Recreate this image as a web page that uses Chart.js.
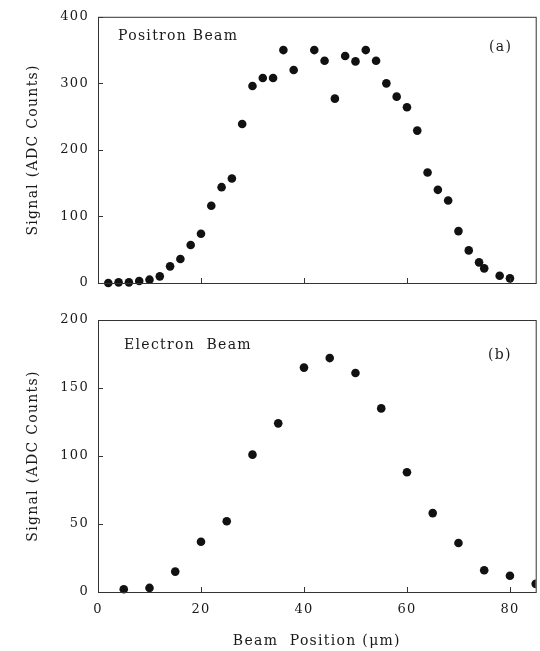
<!DOCTYPE html>
<html>
<head>
<meta charset="utf-8">
<script src="https://cdn.jsdelivr.net/npm/chart.js@4.4.1/dist/chart.umd.min.js"></script>
<style>
  html, body { margin: 0; padding: 0; background: #fff; }
  #wrap { position: relative; width: 540px; height: 651px; }
  .box { position: absolute; left: 0; width: 540px; }
</style>
</head>
<body>
<div id="wrap">
  <div class="box" style="top:0;height:300px"><canvas id="chartA"></canvas></div>
  <div class="box" style="top:300px;height:351px"><canvas id="chartB"></canvas></div>
</div>
<script>
// positron beam, panel (a)
const positronX = [2, 4, 6, 8, 10, 12, 14, 16, 18, 20, 22, 24, 26, 28, 30, 32, 34, 36, 38,
  42, 44, 46, 48, 50, 52, 54, 56, 58, 60, 62, 64, 66, 68, 70, 72, 74, 75, 78, 80];
const positronY = [0, 1, 1, 3, 5, 10, 25, 36, 57, 74, 116, 144, 157, 239, 296, 308, 308, 350, 320,
  350, 334, 277, 341, 333, 350, 334, 300, 280, 264, 229, 166, 140, 124, 78, 49, 31, 22, 11, 7];

// electron beam, panel (b)
const electronX = [5, 10, 15, 20, 25, 30, 35, 40, 45, 50, 55, 60, 65, 70, 75, 80, 85];
const electronY = [2, 3, 15, 37, 52, 101, 124, 165, 172, 161, 135, 88, 58, 36, 16, 12, 6];

const xTicks = [0, 20, 40, 60, 80];
const yTicksA = [0, 100, 200, 300, 400];
const yTicksB = [0, 50, 100, 150, 200];

const ink = "#1a1a1a";
const serif = "'DejaVu Serif', 'Liberation Serif', serif";

function pts(xs, ys) {
    return xs.map((x, i) => ({ x: x, y: ys[i] }));
}

// the scanned figure uses a wide, spaced-out serif
const spacing = {
    id: "spacing",
    beforeDraw(chart) {
        chart.ctx.letterSpacing = "1.3px";
    },
};

// frame box + inward tick marks, like the old plotting package
const frameTicks = {
    id: "frameTicks",
    afterDatasetsDraw(chart, args, opts) {
        const { ctx, chartArea: a, scales } = chart;
        ctx.save();
        ctx.strokeStyle = "#333";
        ctx.lineWidth = 1;
        ctx.strokeRect(a.left + 0.5, a.top + 0.5, a.right - a.left, a.bottom - a.top);
        ctx.beginPath();
        scales.x.ticks.forEach((t) => {
            const px = Math.round(scales.x.getPixelForValue(t.value)) + 0.5;
            ctx.moveTo(px, a.bottom);
            ctx.lineTo(px, a.bottom - 5);
        });
        scales.y.ticks.forEach((t) => {
            const py = Math.round(scales.y.getPixelForValue(t.value)) + 0.5;
            ctx.moveTo(a.left, py);
            ctx.lineTo(a.left + 5, py);
        });
        ctx.stroke();
        // panel captions
        ctx.fillStyle = ink;
        ctx.font = "14px " + serif;
        ctx.letterSpacing = "1.3px";
        ctx.textBaseline = "middle";
        ctx.fillText(opts.name, opts.nameX, opts.nameY);
        ctx.fillText(opts.tag, opts.tagX, opts.tagY);
        ctx.restore();
    },
};

function makePanel(id, data, yMax, yTicks, showX, pad, xHeight, caption) {
    new Chart(document.getElementById(id), {
        type: "scatter",
        data: {
            datasets: [
                {
                    data: data,
                    pointRadius: 4.3,
                    pointHoverRadius: 4.3,
                    backgroundColor: "#111",
                    borderColor: "#111",
                    borderWidth: 0,
                    clip: { left: false, top: false, right: 0, bottom: false },
                },
            ],
        },
        options: {
            responsive: true,
            maintainAspectRatio: false,
            animation: false,
            events: [],
            layout: { padding: { top: pad, right: 2, left: 0, bottom: 0 } },
            plugins: {
                legend: { display: false },
                tooltip: { enabled: false },
                frameTicks: caption,
            },
            scales: {
                x: {
                    type: "linear",
                    min: 0,
                    max: 85,
                    afterBuildTicks: (s) => { s.ticks = xTicks.map((v) => ({ value: v })); },
                    grid: { display: false, drawTicks: false },
                    border: { display: false },
                    ticks: { display: showX, padding: 10, color: ink, font: { family: serif, size: 13 } },
                    title: {
                        display: showX,
                        text: "Beam  Position (\u03bcm)",
                        color: ink,
                        font: { family: serif, size: 14 },
                        padding: { top: 0, bottom: 1 },
                    },
                    afterFit: (s) => { s.height = xHeight; },
                },
                y: {
                    type: "linear",
                    min: 0,
                    max: yMax,
                    afterBuildTicks: (s) => { s.ticks = yTicks.map((v) => ({ value: v })); },
                    grid: { display: false, drawTicks: false },
                    border: { display: false },
                    ticks: { padding: 9, color: ink, font: { family: serif, size: 13 } },
                    title: {
                        display: true,
                        text: "Signal (ADC Counts)",
                        color: ink,
                        font: { family: serif, size: 14 },
                        padding: { top: 25, bottom: 0 },
                    },
                    afterFit: (s) => { s.width = 98; },
                },
            },
        },
        plugins: [spacing, frameTicks],
    });
}

makePanel("chartA", pts(positronX, positronY), 400, yTicksA, false, 13, 17,
    { name: "Positron Beam", nameX: 118, nameY: 36, tag: "(a)", tagX: 489, tagY: 47 });
makePanel("chartB", pts(electronX, electronY), 200, yTicksB, true, 20, 59,
    { name: "Electron  Beam", nameX: 124, nameY: 45, tag: "(b)", tagX: 488, tagY: 55 });
</script>
</body>
</html>
